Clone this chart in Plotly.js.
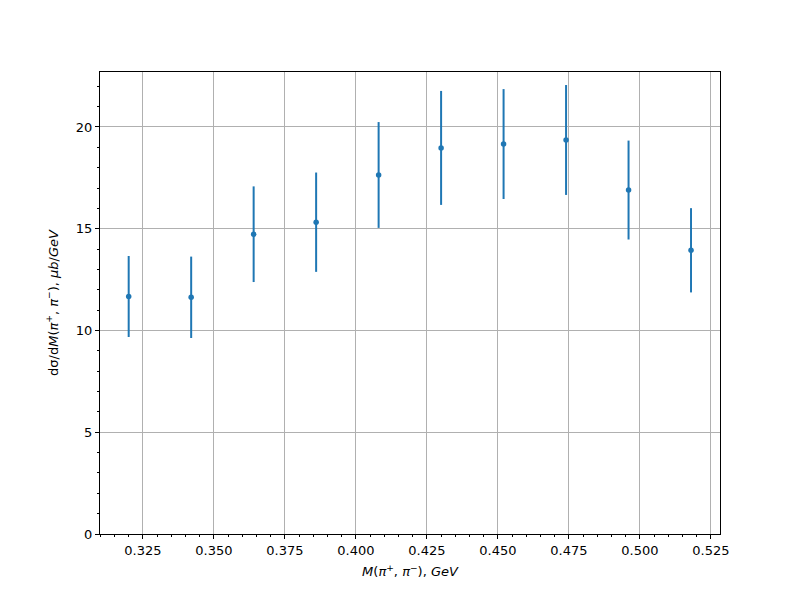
<!DOCTYPE html>
<html>
<head>
<meta charset="utf-8">
<script src="https://cdn.plot.ly/plotly-3.0.1.min.js"></script>
<style>body{margin:0;padding:0;background:#fff;}#chart{width:800px;height:600px;}</style>
</head>
<body>
<div id="chart"></div>
<script>
const massBins = [0.320, 0.342, 0.364, 0.386, 0.408, 0.430, 0.452, 0.474, 0.496, 0.518];
const crossSection = [11.67, 11.63, 14.73, 15.32, 17.64, 18.97, 19.16, 19.36, 16.90, 13.94];
const crossSectionErr = [1.99, 2.00, 2.35, 2.44, 2.60, 2.80, 2.70, 2.70, 2.43, 2.07];

const trace = {
  x: massBins,
  y: crossSection,
  type: 'scatter',
  mode: 'markers',
  marker: {color: '#1f77b4', size: 5.5},
  error_y: {type: 'data', array: crossSectionErr, visible: true, color: '#1f77b4', thickness: 2, width: 0},
  showlegend: false
};

const axisCommon = {
  showline: true, linecolor: 'black', linewidth: 1, mirror: true,
  ticks: 'outside', ticklen: 4, tickwidth: 1, tickcolor: 'black',
  showgrid: true, gridcolor: '#b0b0b0', gridwidth: 1,
  zeroline: false,
  tickfont: {family: 'DejaVu Sans', size: 13, color: 'black'}
};

const layout = {
  width: 800, height: 600,
  paper_bgcolor: 'white', plot_bgcolor: 'white',
  margin: {l: 100, r: 80, t: 72, b: 66},
  xaxis: Object.assign({}, axisCommon, {
    range: [0.3099, 0.5282],
    tickmode: 'array',
    tickvals: [0.325, 0.35, 0.375, 0.4, 0.425, 0.45, 0.475, 0.5, 0.525],
    ticktext: ['0.325', '0.350', '0.375', '0.400', '0.425', '0.450', '0.475', '0.500', '0.525'],
    minor: {dtick: 0.005, tick0: 0, ticks: 'outside', ticklen: 2, tickcolor: 'black', showgrid: false},
    title: {text: '<i>M</i>(<i>π</i><sup>+</sup>, <i>π</i><sup>−</sup>), <i>GeV</i>', font: {family: 'DejaVu Sans', size: 13, color: 'black'}, standoff: 10}
  }),
  yaxis: Object.assign({}, axisCommon, {
    range: [0, 22.7],
    tickmode: 'array',
    tickvals: [0, 5, 10, 15, 20],
    minor: {dtick: 1, tick0: 0, ticks: 'outside', ticklen: 2, tickcolor: 'black', showgrid: false},
    title: {text: 'dσ/d<i>M</i>(<i>π</i><sup>+</sup>, <i>π</i><sup>−</sup>), <i>μb</i>/<i>GeV</i>', font: {family: 'DejaVu Sans', size: 13, color: 'black'}, standoff: 14}
  })
};

Plotly.newPlot('chart', [trace], layout, {displayModeBar: false, staticPlot: true});
</script>
</body>
</html>
